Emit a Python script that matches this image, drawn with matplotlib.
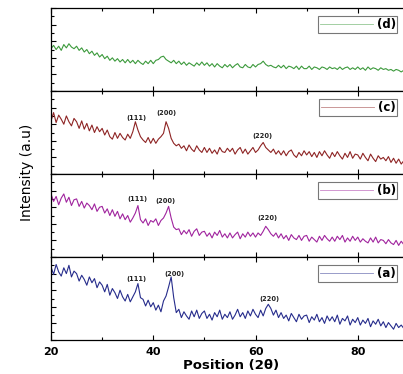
import numpy as np
import matplotlib
matplotlib.use("Agg")
import matplotlib.pyplot as plt
from matplotlib.ticker import MultipleLocator

# 2theta scan grid (0.5 deg steps, 20 -> 89)
two_theta = np.arange(20, 89.01, 0.5)

# intensities (arbitrary units, 0-100 per panel)
int_a = [88, 79, 91, 82, 77, 87, 80, 90, 76, 83,
         80, 71, 78, 73, 66, 76, 69, 74, 63, 70,
         66, 58, 67, 54, 62, 57, 50, 60, 52, 47,
         55, 46, 52, 58, 68, 51, 49, 41, 48, 40,
         45, 36, 42, 34, 47, 53, 64, 76, 51, 33,
         37, 27, 34, 29, 25, 35, 28, 36, 26, 32,
         35, 26, 31, 24, 33, 28, 36, 25, 31, 27,
         34, 25, 30, 37, 28, 33, 26, 35, 29, 37,
         31, 27, 36, 29, 38, 43, 38, 30, 36, 27,
         33, 26, 30, 23, 32, 27, 22, 31, 25, 29,
         30, 21, 28, 24, 31, 22, 27, 20, 29, 23,
         28, 22, 30, 19, 26, 23, 29, 18, 25, 21,
         27, 18, 24, 20, 26, 16, 23, 19, 25, 17,
         22, 15, 21, 17, 13, 20, 15, 18, 14]

int_b = [76, 67, 73, 63, 71, 76, 66, 72, 62, 69,
         70, 61, 67, 59, 65, 62, 57, 64, 55, 60,
         61, 53, 58, 50, 57, 49, 55, 46, 52, 45,
         50, 42, 47, 53, 62, 45, 41, 46, 38, 44,
         42, 46, 38, 44, 47, 53, 61, 47, 36, 33,
         34, 27, 32, 28, 33, 25, 31, 34, 26, 30,
         31, 25, 29, 23, 30, 26, 32, 24, 28, 23,
         29, 23, 27, 30, 22, 28, 24, 30, 25, 29,
         24, 29, 26, 31, 37, 33, 28, 25, 29, 23,
         28, 22, 26, 20, 27, 23, 21, 26, 20, 25,
         26, 19, 24, 21, 18, 25, 20, 26, 22, 19,
         24, 19, 25, 21, 26, 18, 23, 19, 25, 20,
         24, 18, 22, 19, 17, 23, 18, 24, 17, 21,
         20, 16, 21, 17, 15, 20, 14, 19, 15]

int_c = [64, 74, 62, 71, 66, 60, 70, 63, 58, 67,
         63, 55, 64, 54, 61, 52, 59, 50, 57, 51,
         55, 47, 53, 45, 42, 50, 43, 49, 44, 41,
         48, 43, 51, 63, 53, 45, 41, 38, 44, 37,
         43, 37, 42, 45, 49, 63, 55, 43, 37, 34,
         36, 31, 34, 28, 35, 30, 27, 34, 29, 26,
         32, 26, 31, 25, 29, 24, 32, 27, 26, 31,
         27, 31, 24, 29, 32, 25, 30, 24, 28, 32,
         26, 29, 34, 38, 32, 29, 26, 30, 24, 28,
         23, 28, 22, 27, 29, 23, 20, 26, 22, 28,
         23, 27, 21, 26, 20, 27, 22, 28, 23, 19,
         26, 21, 27, 22, 18, 25, 20, 27, 19, 24,
         23, 18, 25, 20, 16, 24, 19, 15, 22, 18,
         20, 16, 21, 14, 19, 13, 18, 12, 16]

int_d = [51, 55, 50, 54, 49, 56, 52, 57, 53, 51,
         54, 49, 52, 47, 50, 45, 48, 43, 46, 41,
         44, 39, 42, 37, 40, 36, 39, 35, 38, 34,
         38, 34, 37, 33, 37, 34, 32, 36, 33, 37,
         33, 37, 38, 41, 42, 38, 36, 34, 37, 33,
         36, 32, 35, 31, 34, 32, 30, 34, 31, 35,
         31, 34, 30, 33, 29, 33, 30, 28, 32, 29,
         32, 28, 31, 33, 29, 28, 32, 29, 28, 32,
         29, 32, 33, 36, 32, 30, 31, 29, 28, 31,
         28, 31, 27, 30, 29, 27, 30, 26, 30, 27,
         27, 30, 26, 29, 28, 26, 29, 28, 26, 29,
         27, 28, 26, 29, 26, 28, 29, 26, 28, 26,
         29, 26, 28, 25, 29, 26, 28, 27, 25, 28,
         26, 27, 25, 26, 24, 26, 25, 23, 25]

labels = ['(d)', '(c)', '(b)', '(a)']
colors = ['#3c9a3c', '#8e2424', '#a0249e', '#262c8c']
series = [int_d, int_c, int_b, int_a]

# peak labels per panel: (text, 2theta, y)
peaks = {
    '(c)': [('(111)', 36.8, 68), ('(200)', 42.6, 73), ('(220)', 61.4, 46)],
    '(b)': [('(111)', 37.0, 70), ('(200)', 42.4, 67), ('(220)', 62.4, 47)],
    '(a)': [('(111)', 36.8, 73), ('(200)', 44.2, 80), ('(220)', 62.8, 50)],
}

fig = plt.figure(figsize=(4.03, 3.74), dpi=100)
left, width = 0.1266, 0.888
bottom, panel_h = 0.0909, 0.2219

for i in range(4):
    ax = fig.add_axes([left, bottom + (3 - i) * panel_h, width, panel_h])
    ax.plot(two_theta, series[i], color=colors[i], lw=0.8, label=labels[i])
    ax.set_xlim(20, 90)
    ax.set_ylim(0, 100)
    ax.xaxis.set_major_locator(MultipleLocator(20))
    ax.xaxis.set_minor_locator(MultipleLocator(10))
    ax.yaxis.set_major_locator(MultipleLocator(20))
    ax.yaxis.set_minor_locator(MultipleLocator(10))
    ax.tick_params(which='both', direction='in', top=True, right=False,
                   labelleft=False, width=0.8)
    ax.tick_params(which='major', length=3.5)
    ax.tick_params(which='minor', length=2)
    for s in ax.spines.values():
        s.set_linewidth(0.9)
    if i < 3:
        ax.tick_params(labelbottom=False)
    else:
        for t in ax.get_xticklabels():
            t.set_fontweight('bold')
            t.set_fontsize(8)
        ax.tick_params(axis='x', pad=5)
    leg = ax.legend(loc='upper right', bbox_to_anchor=(0.968, 0.9),
                    borderaxespad=0, fancybox=False, handlelength=4.5,
                    fontsize=8.5, borderpad=0.15, handletextpad=0.3,
                    edgecolor='#777777', framealpha=1)
    leg.get_frame().set_linewidth(0.8)
    for line in leg.get_lines():
        line.set_linewidth(0.6)
        line.set_alpha(0.55)
    for t in leg.get_texts():
        t.set_fontweight('bold')
    for txt, x, y in peaks.get(labels[i], []):
        ax.text(x, y, txt, fontsize=4.8, fontweight='bold', ha='center',
                va='center', color='#222222')

fig.text(0.067, 0.54, 'Intensity (a.u)', rotation=90, ha='center', va='center',
         fontsize=10, family=['Liberation Sans Narrow', 'DejaVu Sans'])
fig.text(0.573, 0.024, 'Position (2\u03b8)', ha='center', va='center',
         fontsize=9.5, fontweight='bold')

fig.savefig('out.png', dpi=100)
